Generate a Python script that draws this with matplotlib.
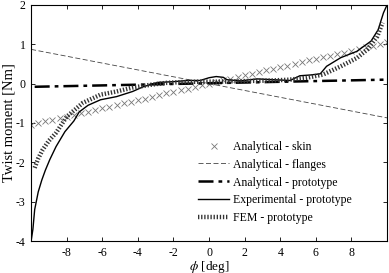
import numpy as np
import matplotlib.pyplot as plt

plt.rcParams['font.family'] = ['Liberation Serif', 'DejaVu Serif']
plt.rcParams['mathtext.fontset'] = 'stix'
plt.rcParams['axes.unicode_minus'] = False

# Analytical - skin (markers), deg / Nm
skin_x = [-10.0, -9.6, -9.2, -8.8, -8.4, -8.0, -7.6, -7.2, -6.8, -6.4, -6.0, -5.6, -5.2, -4.8,
          -4.4, -4.0, -3.6, -3.2, -2.8, -2.4, -2.0, -1.6, -1.2, -0.8, -0.4, 0.0, 0.4, 0.8,
          1.2, 1.6, 2.0, 2.4, 2.8, 3.2, 3.6, 4.0, 4.4, 4.8, 5.2, 5.6, 6.0, 6.4, 6.8, 7.2,
          7.6, 8.0, 8.4, 8.8, 9.2, 9.6, 10.0]
skin_y = [-1.05, -1.00, -0.96, -0.92, -0.88, -0.84, -0.79, -0.75, -0.71, -0.67, -0.63, -0.59,
          -0.55, -0.50, -0.46, -0.42, -0.38, -0.34, -0.29, -0.25, -0.21, -0.17, -0.13, -0.08,
          -0.04, 0.00, 0.04, 0.08, 0.13, 0.17, 0.21, 0.25, 0.29, 0.34, 0.38, 0.42, 0.46,
          0.50, 0.55, 0.59, 0.63, 0.67, 0.71, 0.75, 0.79, 0.84, 0.88, 0.92, 0.96, 1.00, 1.05]

flange_x = [-10.0, 10.0]
flange_y = [0.87, -0.87]

proto_x = [-9.8, 9.8]
proto_y = [-0.08, 0.10]

exp_x = [-10.0, -9.9, -9.8, -9.6, -9.4, -9.2, -8.95, -8.6, -8.1, -7.6, -7.3, -6.8, -6.1, -5.2,
         -4.3, -3.7, -2.9, -2.0, -1.2, -0.5, 0.0, 0.4, 0.8, 1.0, 1.75, 2.7, 3.6, 4.55, 5.1,
         5.7, 6.25, 6.6, 7.0, 7.4, 8.3, 9.1, 9.5, 9.8, 10.0]
exp_y = [-4.0, -3.7, -3.2, -2.75, -2.45, -2.2, -1.93, -1.6, -1.22, -0.95, -0.72, -0.55, -0.41,
         -0.33, -0.2, -0.08, 0.03, 0.05, 0.08, 0.08, 0.15, 0.18, 0.16, 0.1, 0.07, 0.12, 0.1,
         0.08, 0.2, 0.22, 0.25, 0.44, 0.55, 0.66, 0.82, 1.08, 1.37, 1.8, 2.0]

fem_x = [-9.8, -9.6, -9.35, -9.0, -8.6, -8.0, -7.1, -6.1, -5.2, -4.3, -3.3, -2.4, -1.5, -0.5,
         0.5, 1.5, 2.5, 3.5, 4.5, 5.5, 6.4, 7.4, 8.3, 8.9, 9.45, 9.75]
fem_y = [-2.14, -1.9, -1.68, -1.45, -1.25, -0.84, -0.49, -0.28, -0.2, -0.1, -0.03, 0.02, 0.04,
         0.05, 0.05, 0.06, 0.07, 0.08, 0.1, 0.15, 0.23, 0.44, 0.65, 0.87, 1.2, 1.55]

fig = plt.figure(figsize=(3.89, 2.73), dpi=100)
ax = fig.add_axes([0.08, 0.117, 0.915, 0.865])

ax.plot(skin_x, skin_y, ls='none', marker='x', ms=4, mew=0.6, color='#777777',
        label='Analytical - skin')
ax.plot(flange_x, flange_y, ls=(0, (6, 3)), lw=0.6, color='#444444', label='Analytical - flanges')
ax.plot(proto_x, proto_y, ls=(0, (6, 2, 1.5, 2)), lw=1.8, color='black',
        label='Analytical - prototype')
ax.plot(exp_x, exp_y, ls='-', lw=1.0, color='black', label='Experimental - prototype')
ax.plot(fem_x, fem_y, ls=(0, (0.3, 0.4)), lw=3.2, color='#333333', solid_capstyle='butt',
        dash_capstyle='butt', label='FEM - prototype')

ax.set_xlim(-10, 10)
ax.set_ylim(-4, 2)
ax.set_xticks([-8, -6, -4, -2, 0, 2, 4, 6, 8])
ax.set_yticks([-4, -3, -2, -1, 0, 1, 2])
ax.tick_params(direction='in', top=True, right=True, length=3, width=0.6, labelsize=8.5, pad=4)
for s in ax.spines.values():
    s.set_linewidth(0.8)

ax.set_xlabel(r'$\phi$ [deg]', fontsize=9.5)
ax.set_ylabel('Twist moment [Nm]', fontsize=10.5)
ax.xaxis.set_label_coords(0.5, -0.074)
ax.yaxis.set_label_coords(-0.045, 0.5)

ax.legend(loc='upper left', bbox_to_anchor=(0.447, 0.46), frameon=False, fontsize=8.5,
          handlelength=2.6, handletextpad=0.3, labelspacing=0.5, borderpad=0.2)

fig.savefig('out.png', dpi=100)
